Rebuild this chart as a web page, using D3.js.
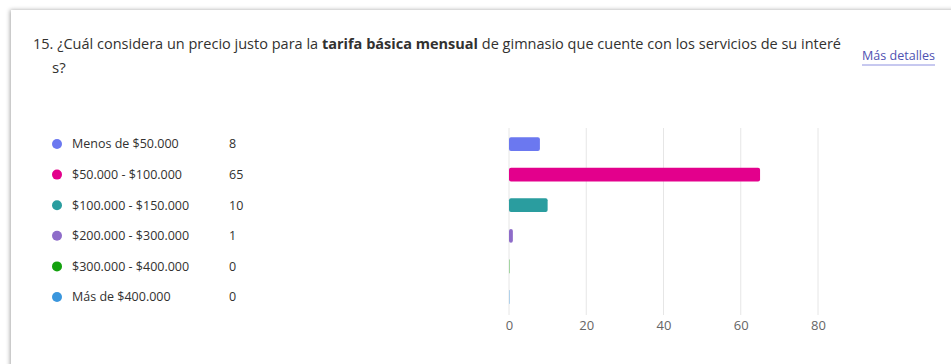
<!DOCTYPE html>
<html>
<head>
<meta charset="utf-8">
<script src="https://cdn.jsdelivr.net/npm/d3@7"></script>
<style>
  html, body { margin: 0; padding: 0; background: #ffffff; }
  svg { display: block; }
  text { font-family: "Open Sans", "Noto Sans", sans-serif; }
</style>
</head>
<body>
<svg id="chart" width="951" height="364"></svg>
<script>
// Survey answer options, response counts and colours
const categories = [
  "Menos de $50.000",
  "$50.000 - $100.000",
  "$100.000 - $150.000",
  "$200.000 - $300.000",
  "$300.000 - $400.000",
  "Más de $400.000"
];
const counts = [8, 65, 10, 1, 0, 0];
const colors = ["#6b78f0", "#e3008c", "#2a9d9f", "#8e6cc9", "#13a10e", "#3a96dd"];
const xTicks = [0, 20, 40, 60, 80];

const svg = d3.select("#chart");

// card with soft shadow
const defs = svg.append("defs");
const f = defs.append("filter").attr("id", "shadow")
  .attr("x", "-5%").attr("y", "-5%").attr("width", "110%").attr("height", "110%");
f.append("feDropShadow").attr("dx", -1).attr("dy", 0).attr("stdDeviation", 2)
  .attr("flood-color", "#000").attr("flood-opacity", 0.35);

svg.append("rect").attr("x", 11).attr("y", 10).attr("width", 960).attr("height", 370)
  .attr("fill", "#ffffff").attr("filter", "url(#shadow)");

// question title
const title = svg.append("text").attr("x", 33).attr("y", 49)
  .attr("font-size", 15).attr("fill", "#323130")
  .attr("textLength", 808).attr("lengthAdjust", "spacingAndGlyphs");
title.append("tspan").text("15. ¿Cuál considera un precio justo para la ");
title.append("tspan").attr("font-weight", "bold").text("tarifa básica mensual");
title.append("tspan").text(" de gimnasio que cuente con los servicios de su interé");
svg.append("text").attr("x", 52).attr("y", 73).attr("font-size", 15)
  .attr("fill", "#323130").text("s?");

// details link
svg.append("text").attr("x", 862).attr("y", 60)
  .attr("font-size", 12).attr("fill", "#4f52b2")
  .attr("textLength", 73).attr("lengthAdjust", "spacingAndGlyphs")
  .text("Más detalles");
svg.append("line").attr("x1", 862).attr("x2", 935).attr("y1", 65).attr("y2", 65)
  .attr("stroke", "#8f92e0").attr("stroke-width", 1);

// scales
const x = d3.scaleLinear().domain([0, 80]).range([509, 818]);
const y = d3.scaleBand().domain(categories).range([120.3, 320.7]).padding(0.55);

// gridlines
svg.append("g").selectAll("line").data(xTicks).join("line")
  .attr("x1", d => x(d)).attr("x2", d => x(d))
  .attr("y1", 128).attr("y2", 315)
  .attr("stroke", "#e6e6e6").attr("stroke-width", 1);

// axis labels
const axis = svg.append("g").attr("transform", "translate(0,318)")
  .call(d3.axisBottom(x).tickValues(xTicks).tickSize(0).tickPadding(0));
axis.select(".domain").remove();
axis.selectAll("text").attr("font-size", 13).attr("fill", "#666")
  .attr("font-family", "'Open Sans', sans-serif").attr("dy", "0.9em");

// bars
svg.append("g").selectAll("rect").data(categories).join("rect")
  .attr("x", x(0))
  .attr("y", c => y(c))
  .attr("width", (c, i) => x(counts[i]) - x(0))
  .attr("height", y.bandwidth())
  .attr("rx", 2)
  .attr("fill", (c, i) => colors[i]);

// faint marker for empty options
svg.append("g").selectAll("line").data(categories.filter((c, i) => counts[i] === 0)).join("line")
  .attr("x1", x(0) + 0.5).attr("x2", x(0) + 0.5)
  .attr("y1", c => y(c)).attr("y2", c => y(c) + y.bandwidth())
  .attr("stroke", c => colors[categories.indexOf(c)]).attr("stroke-opacity", 0.35);

// legend
const cy = c => y(c) + y.bandwidth() / 2;
const legend = svg.append("g");
legend.selectAll("circle").data(categories).join("circle")
  .attr("cx", 57).attr("cy", cy).attr("r", 5)
  .attr("fill", (c, i) => colors[i]);
legend.selectAll("text.lab").data(categories).join("text").attr("class", "lab")
  .attr("x", 72).attr("y", cy).attr("dy", "0.35em")
  .attr("font-size", 12.5).attr("fill", "#323130").text(c => c);
legend.selectAll("text.val").data(categories).join("text").attr("class", "val")
  .attr("x", 229).attr("y", cy).attr("dy", "0.35em")
  .attr("font-size", 12.5).attr("fill", "#323130").text((c, i) => counts[i]);
</script>
</body>
</html>
